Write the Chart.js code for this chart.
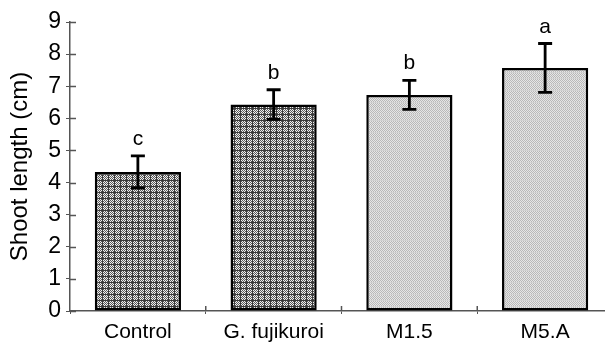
<!DOCTYPE html>
<html><head><meta charset="utf-8">
<script src="https://cdn.jsdelivr.net/npm/chart.js@4"></script>
<style>html,body{margin:0;padding:0;background:#fff;overflow:hidden;width:605px;height:342px}</style>
</head><body>
<canvas id="c" width="613" height="342"></canvas>
<script>
const categories = ["Control", "G. fujikuroi", "M1.5", "M5.A"];
const means = [4.33, 6.43, 6.73, 7.57];
const errors = [0.5, 0.46, 0.45, 0.76];
const letters = ["c", "b", "b", "a"];
const yTicks = [0, 1, 2, 3, 4, 5, 6, 7, 8, 9];
const FONT = '"Liberation Sans", Arial, sans-serif';

function makePattern(dark) {
  const t = document.createElement('canvas');
  t.width = 6; t.height = 6;
  const g = t.getContext('2d');
  for (let y = 0; y < 6; y++) for (let x = 0; x < 6; x++) {
    let c;
    if (dark) {
      c = ((x + y) % 2 === 0) ? '#5a5a5a' : '#f0f0f0';
      if (x === 0 || y === 0) c = '#3a3a3a';
    } else {
      c = ((x + y) % 2 === 0) ? '#b8b8b8' : '#e6e6e6';
      if (y === 0) c = '#d2d2d2';
    }
    g.fillStyle = c; g.fillRect(x, y, 1, 1);
  }
  return document.getElementById('c').getContext('2d').createPattern(t, 'repeat');
}
const darkP = makePattern(true), lightP = makePattern(false);

const errPlugin = {
  id: 'err',
  afterDatasetsDraw(chart) {
    const ctx = chart.ctx, ys = chart.scales.y, xs = chart.scales.x;
    const meta = chart.getDatasetMeta(0);
    ctx.save();
    ctx.strokeStyle = '#555'; ctx.lineWidth = 1.5;
    ctx.beginPath();
    yTicks.forEach(v => {
      const py = Math.round(ys.getPixelForValue(v)) + 0.5;
      ctx.moveTo(ys.right, py); ctx.lineTo(ys.right + 6, py);
    });
    for (let i = 1; i < categories.length; i++) {
      const px = (xs.getPixelForValue(i - 1) + xs.getPixelForValue(i)) / 2;
      ctx.moveTo(px, xs.top); ctx.lineTo(px, xs.top - 5);
    }
    ctx.stroke();
    ctx.strokeStyle = '#000'; ctx.lineWidth = 2.8;
    meta.data.forEach((bar, i) => {
      const x = bar.x;
      const t = ys.getPixelForValue(means[i] + errors[i]);
      const b = ys.getPixelForValue(means[i] - errors[i]);
      ctx.beginPath();
      ctx.moveTo(x, t); ctx.lineTo(x, b);
      ctx.moveTo(x - 7, t); ctx.lineTo(x + 7, t);
      ctx.moveTo(x - 7, b); ctx.lineTo(x + 7, b);
      ctx.stroke();
      ctx.fillStyle = '#000';
      ctx.font = '21px ' + FONT;
      ctx.textAlign = 'center'; ctx.textBaseline = 'alphabetic';
      ctx.fillText(letters[i], x, t - 11);
    });
    ctx.restore();
  }
};

new Chart(document.getElementById('c'), {
  type: 'bar',
  data: {
    labels: categories,
    datasets: [{
      data: means,
      backgroundColor: [darkP, darkP, lightP, lightP],
      borderColor: '#000',
      borderWidth: 2.5,
      borderSkipped: false,
      categoryPercentage: 1,
      barPercentage: 0.635
    }]
  },
  options: {
    responsive: false,
    animation: false,
    devicePixelRatio: 1,
    layout: { padding: { top: 22, right: 0, left: 0, bottom: 0 } },
    plugins: { legend: { display: false }, tooltip: { enabled: false } },
    scales: {
      x: {
        grid: { offset: true, drawOnChartArea: false, drawTicks: true, tickLength: 3, color: '#555' },
        border: { color: '#555', width: 1.5 },
        ticks: { color: '#000', font: { family: FONT, size: 21 }, padding: 6, maxRotation: 0 },
        afterFit(s) { s.height = 31; }
      },
      y: {
        min: 0, max: 9,
        afterBuildTicks(s) { s.ticks = yTicks.map(v => ({ value: v })); },
        grid: { drawOnChartArea: false, drawTicks: true, tickLength: 4, color: '#555' },
        border: { color: '#555', width: 1.5 },
        ticks: { color: '#000', font: { family: FONT, size: 23 }, padding: 5 },
        title: { display: true, text: 'Shoot length (cm)', color: '#000', font: { family: FONT, size: 24 }, padding: { top: 6, bottom: 0 } },
        afterFit(s) { s.width = 70; }
      }
    }
  },
  plugins: [errPlugin]
});
</script>
</body></html>
